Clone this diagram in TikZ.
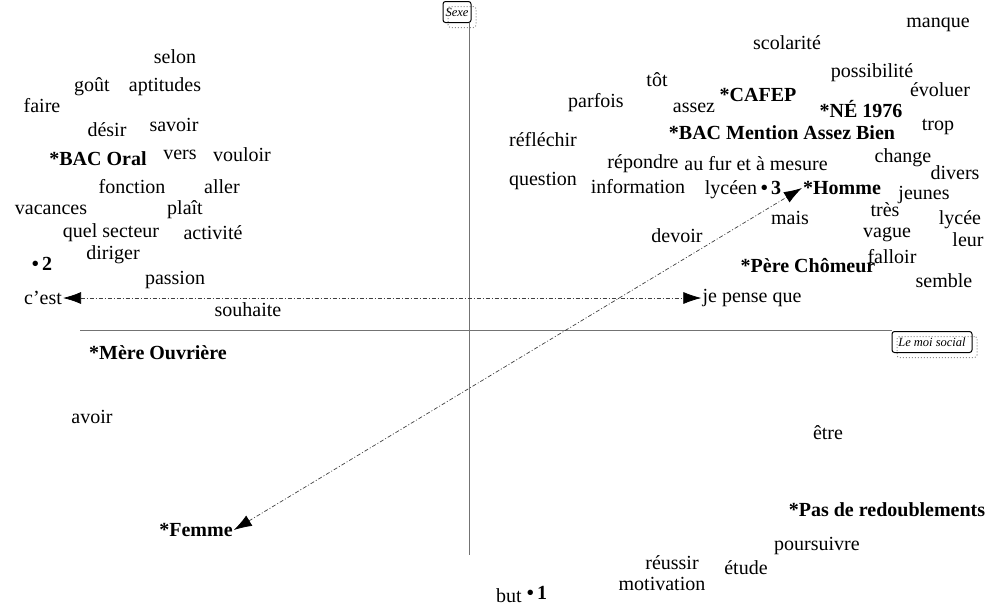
\documentclass[tikz,border=0pt]{standalone}
\usepackage{fontspec}
\setmainfont{Liberation Serif}
\usetikzlibrary{arrows.meta,shadows}

\begin{document}
\begin{tikzpicture}[x=1pt,y=-1pt,
word/.style={inner sep=1pt,font=\fontsize{20}{22}\selectfont},
mod/.style={inner sep=1pt,font=\fontsize{20}{22}\selectfont\bfseries},
axlabel/.style={draw,rounded corners=2.5pt,line width=1pt,inner sep=2pt,minimum height=21pt,
  font=\fontsize{12.5}{12.5}\selectfont\itshape,
  drop shadow={opacity=1,fill=none,draw=black!45,dotted,shadow xshift=5pt,shadow yshift=-5pt}},
axis/.style={black!55,line width=0.8pt},
link/.style={black!75,line width=0.7pt,dash pattern=on 4pt off 2pt on 1pt off 2pt,
  {Latex[length=18pt,width=12pt,color=black]}-{Latex[length=18pt,width=12pt,color=black]}}]
\useasboundingbox (0,0) rectangle (988,606);
\node[axlabel,minimum width=28pt] (sexe) at (457,12) {Sexe};
\node[axlabel,minimum width=80pt] (moi) at (932,342) {Le moi social};
\coordinate (vbot) at (469,555);
\coordinate (hleft) at (80,330);
\draw[axis] (sexe.south -| vbot) -- (vbot);
\draw[axis] (hleft) -- (hleft -| moi.west);
\node[word] (selon) at (175,57) {selon};
\node[word] (gout) at (92,87) {goût};
\node[word] (aptitudes) at (165,87) {aptitudes};
\node[word] (faire) at (42,106) {faire};
\node[word] (desir) at (107,130) {désir};
\node[word] (savoir) at (174,125) {savoir};
\node[mod] (bacoral) at (98,159) {*BAC Oral};
\node[word] (vers) at (180,155) {vers};
\node[word] (vouloir) at (242,155) {vouloir};
\node[word] (fonction) at (132,187) {fonction};
\node[word] (aller) at (222,187) {aller};
\node[word] (vacances) at (51,210) {vacances};
\node[word] (plait) at (185,210) {plaît};
\node[word] (secteur) at (111,233) {quel secteur};
\node[word] (activite) at (213,233) {activité};
\node[mod] (cl2) at (42,264) {•\,2};
\node[word] (diriger) at (113,255) {diriger};
\node[word] (passion) at (175,280) {passion};
\node[word] (cest) at (43,298) {c’est};
\node[word] (souhaite) at (248,310) {souhaite};
\node[mod] (mere) at (158,353) {*Mère Ouvrière};
\node[word] (avoir) at (92,417) {avoir};
\node[mod] (femme) at (196,530) {*Femme};
\node[word] (manque) at (938,25) {manque};
\node[word] (scolarite) at (787,43) {scolarité};
\node[word] (tot) at (657,80) {tôt};
\node[word] (possibilite) at (872,73) {possibilité};
\node[word] (evoluer) at (940,90) {évoluer};
\node[mod] (cafep) at (758,95) {*CAFEP};
\node[word] (parfois) at (596,103) {parfois};
\node[word] (assez) at (694,108) {assez};
\node[mod] (ne) at (861,109) {*NÉ 1976};
\node[word] (trop) at (938,127) {trop};
\node[mod] (bacmention) at (782,133) {*BAC Mention Assez Bien};
\node[word] (reflechir) at (543,140) {réfléchir};
\node[word] (repondre) at (643,164) {répondre};
\node[word] (aufur) at (756,164) {au fur et à mesure};
\node[word] (change) at (903,158) {change};
\node[word] (divers) at (955,173) {divers};
\node[word] (question) at (543,181) {question};
\node[word] (information) at (638,187) {information};
\node[word] (lyceen) at (731,190) {lycéen};
\node[mod] (cl3) at (771,188) {•\,3};
\node[mod] (homme) at (842,188) {*Homme};
\node[word] (jeunes) at (924,195) {jeunes};
\node[word] (tres) at (885,210) {très};
\node[word] (mais) at (790,218) {mais};
\node[word] (lycee) at (960,220) {lycée};
\node[word] (devoir) at (677,236) {devoir};
\node[word] (vague) at (887,235) {vague};
\node[word] (leur) at (968,240) {leur};
\node[word] (falloir) at (892,257) {falloir};
\node[mod] (pere) at (808,266) {*Père Chômeur};
\node[word] (semble) at (944,281) {semble};
\node[word] (jepense) at (752,298) {je pense que};
\node[word] (etre) at (828,433) {être};
\node[mod] (redoublement) at (887,510) {*Pas de redoublements};
\node[word] (poursuivre) at (817,546) {poursuivre};
\node[word] (reussir) at (672,563) {réussir};
\node[word] (etude) at (746,568) {étude};
\node[word] (motivation) at (662,584) {motivation};
\node[word] (but) at (509,596) {but};
\node[mod] (cl1) at (537,593) {•\,1};
\draw[link] (cest.east) -- (jepense.west);
\draw[link] (femme.east) -- (homme.west);
\end{tikzpicture}
\end{document}
